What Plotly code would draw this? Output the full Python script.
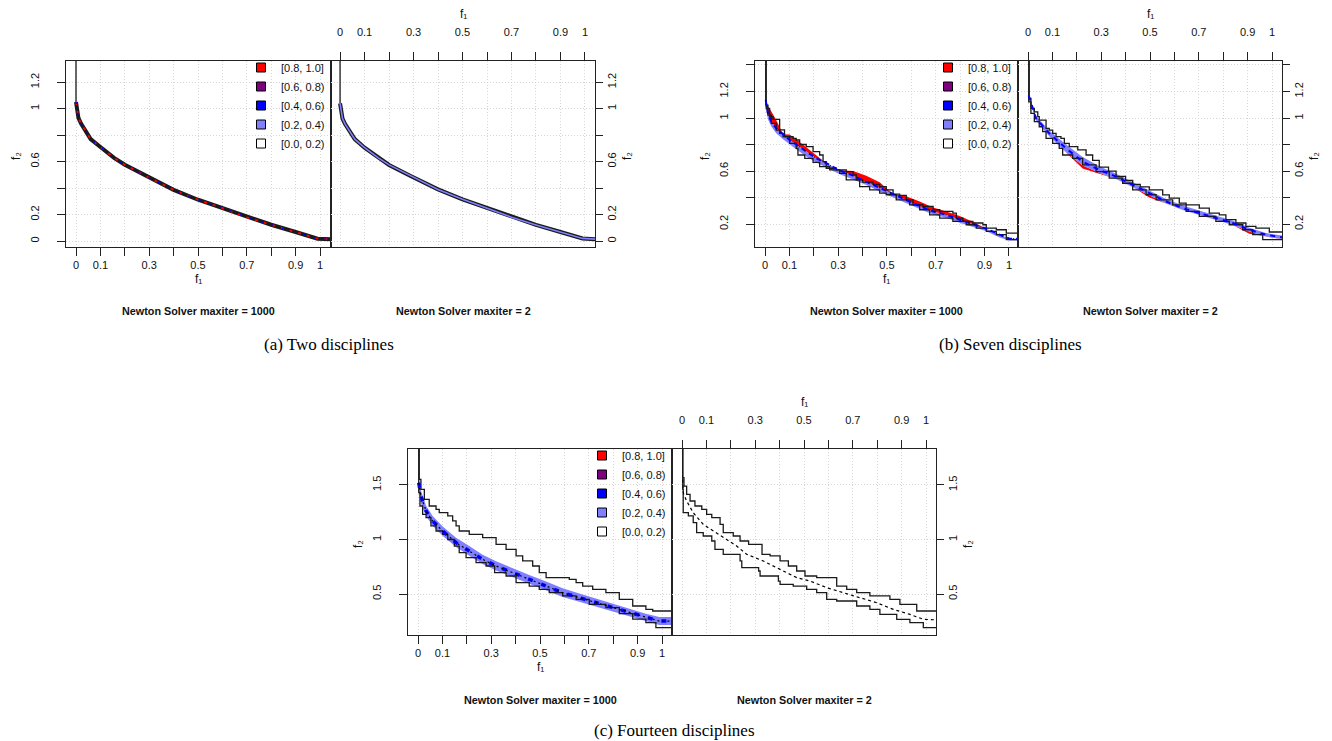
import plotly.graph_objects as go

# ---------------- data ----------------
x_tickvals = [0, 0.1, 0.3, 0.5, 0.7, 0.9, 1.0]
x_ticktext = ['0', '0.1', '0.3', '0.5', '0.7', '0.9', '1']
x_minor = [0.2, 0.4, 0.6, 0.8]
ya_tickvals = [0, 0.2, 0.6, 1.0, 1.2]
ya_ticktext = ['0', '0.2', '0.6', '1', '1.2']
ya_minor = [0.4, 0.8]
yb_tickvals = [0.2, 0.6, 1.0, 1.2]
yb_ticktext = ['0.2', '0.6', '1', '1.2']
yb_minor = [0.4, 0.8, 1.4]
yc_tickvals = [0.5, 1.0, 1.5]
yc_ticktext = ['0.5', '1', '1.5']
yc_minor = []

legend_labels = ['[0.8, 1.0]', '[0.6, 0.8)', '[0.4, 0.6)', '[0.2, 0.4)', '[0.0, 0.2)']
legend_colors = ['#FF0000', '#7F007F', '#0000FF', '#7F7FFF', '#FFFFFF']

panel_titles = ['Newton Solver maxiter = 1000', 'Newton Solver maxiter = 2']
captions = ['(a) Two disciplines', '(b) Seven disciplines', '(c) Fourteen disciplines']
x_title = 'f\u2081'
y_title = 'f\u2082'

# (a) Two disciplines
a1_x = [0, 0, 0.005, 0.01, 0.02, 0.033, 0.06, 0.10, 0.156, 0.20, 0.29, 0.40, 0.50, 0.60, 0.70, 0.80, 0.90, 0.99, 1.06]
a1_y = [1.50, 1.05, 0.98, 0.93, 0.89, 0.853, 0.77, 0.71, 0.628, 0.576, 0.488, 0.387, 0.312, 0.249, 0.179, 0.123, 0.068, 0.018, 0.012]
a2_x = [0, 0, 0.005, 0.01, 0.02, 0.033, 0.06, 0.10, 0.156, 0.20, 0.29, 0.40, 0.50, 0.60, 0.70, 0.80, 0.90, 0.99, 1.06]
a2_y = [1.50, 1.04, 0.97, 0.925, 0.885, 0.85, 0.77, 0.705, 0.628, 0.575, 0.49, 0.39, 0.315, 0.25, 0.18, 0.122, 0.068, 0.02, 0.012]

# (b) Seven disciplines, maxiter = 1000
b1_up_x = [0, 0.005, 0.019, 0.033, 0.06, 0.06, 0.08, 0.115, 0.128, 0.142, 0.169, 0.197, 0.224, 0.238, 0.251,
           0.292, 0.333, 0.361, 0.374, 0.40, 0.443, 0.47, 0.497, 0.525, 0.552, 0.579, 0.607, 0.648, 0.689, 0.716,
           0.77, 0.784, 0.811, 0.852, 0.893, 0.907, 0.948, 0.989, 1.06]
b1_up_y = [1.50, 1.072, 1.01, 0.99, 0.985, 0.91, 0.86, 0.847, 0.834, 0.80, 0.784, 0.746, 0.721, 0.671, 0.621,
           0.609, 0.596, 0.571, 0.533, 0.516, 0.50, 0.483, 0.458, 0.426, 0.416, 0.383, 0.345, 0.333, 0.308, 0.295,
           0.283, 0.245, 0.22, 0.208, 0.195, 0.17, 0.157, 0.132, 0.132]
b1_lo_x = [0.003, 0.003, 0.012, 0.026, 0.046, 0.06, 0.074, 0.101, 0.128, 0.135, 0.163, 0.197, 0.224, 0.265, 0.306,
           0.333, 0.388, 0.429, 0.47, 0.497, 0.538, 0.593, 0.634, 0.675, 0.716, 0.77, 0.825, 0.866, 0.907, 0.948,
           0.989, 1.06]
b1_lo_y = [1.50, 1.097, 1.022, 0.959, 0.909, 0.884, 0.859, 0.809, 0.771, 0.721, 0.696, 0.666, 0.634, 0.609, 0.583,
           0.533, 0.483, 0.458, 0.433, 0.421, 0.383, 0.345, 0.308, 0.27, 0.245, 0.22, 0.195, 0.17, 0.145, 0.12,
           0.082, 0.082]
b1_med_x = [0.003, 0.012, 0.026, 0.046, 0.074, 0.101, 0.128, 0.169, 0.21, 0.251, 0.306, 0.361, 0.415, 0.47, 0.525,
            0.579, 0.634, 0.689, 0.743, 0.798, 0.852, 0.907, 0.962, 1.003, 1.06]
b1_med_y = [1.135, 1.035, 0.972, 0.922, 0.877, 0.834, 0.80, 0.746, 0.696, 0.659, 0.605, 0.565, 0.52, 0.47, 0.425,
            0.38, 0.335, 0.295, 0.27, 0.233, 0.20, 0.165, 0.12, 0.09, 0.09]
b1_red_hi = [1.135, 1.09, 1.05, 0.985, 0.877, 0.875, 0.84, 0.78, 0.72, 0.659, 0.605, 0.60, 0.565, 0.515, 0.425,
             0.41, 0.37, 0.325, 0.295, 0.26, 0.218, 0.165, 0.12, 0.09, 0.09]
b1_band_lo = [1.09, 0.99, 0.935, 0.885, 0.84, 0.80, 0.765, 0.71, 0.665, 0.627, 0.575, 0.537, 0.495, 0.445, 0.40,
              0.357, 0.313, 0.273, 0.248, 0.21, 0.178, 0.145, 0.098, 0.076, 0.076]

# (b) Seven disciplines, maxiter = 2
b2_up_x = [0, 0.005, 0.012, 0.026, 0.04, 0.046, 0.074, 0.074, 0.087, 0.101, 0.115, 0.135, 0.149, 0.169, 0.204,
           0.238, 0.265, 0.292, 0.33, 0.361, 0.40, 0.429, 0.46, 0.497, 0.552, 0.579, 0.62, 0.648, 0.702, 0.743,
           0.784, 0.811, 0.852, 0.893, 0.934, 0.989, 1.06]
b2_up_y = [1.50, 1.147, 1.072, 1.047, 1.01, 0.984, 0.984, 0.922, 0.909, 0.884, 0.859, 0.847, 0.809, 0.784, 0.759,
           0.721, 0.68, 0.63, 0.60, 0.56, 0.53, 0.50, 0.48, 0.458, 0.42, 0.395, 0.358, 0.345, 0.32, 0.283,
           0.27, 0.233, 0.208, 0.182, 0.17, 0.14, 0.14]
b2_lo_x = [0.003, 0.003, 0.012, 0.026, 0.046, 0.06, 0.074, 0.101, 0.128, 0.142, 0.183, 0.224, 0.279, 0.333, 0.388,
           0.429, 0.484, 0.525, 0.593, 0.648, 0.702, 0.77, 0.825, 0.88, 0.921, 0.962, 1.06]
b2_lo_y = [1.50, 1.122, 1.035, 0.972, 0.934, 0.897, 0.847, 0.809, 0.771, 0.721, 0.696, 0.646, 0.596, 0.546, 0.508,
           0.458, 0.421, 0.383, 0.345, 0.295, 0.258, 0.22, 0.195, 0.157, 0.12, 0.082, 0.082]
b2_med_x = [0.003, 0.033, 0.087, 0.156, 0.224, 0.292, 0.361, 0.429, 0.497, 0.566, 0.634, 0.702, 0.77, 0.839, 0.907,
            0.975, 1.06]
b2_med_y = [1.17, 0.997, 0.884, 0.771, 0.671, 0.609, 0.558, 0.496, 0.433, 0.37, 0.32, 0.283, 0.245, 0.208, 0.157,
            0.12, 0.095]
b2_band_hi = [1.17, 1.015, 0.905, 0.80, 0.705, 0.637, 0.58, 0.515, 0.45, 0.39, 0.34, 0.30, 0.262, 0.225, 0.173,
              0.133, 0.107]
b2_band_lo = [1.15, 0.982, 0.862, 0.742, 0.642, 0.587, 0.54, 0.48, 0.417, 0.355, 0.306, 0.268, 0.23, 0.193, 0.143,
              0.106, 0.083]
b2_red_lo = [1.15, 0.982, 0.862, 0.742, 0.62, 0.58, 0.54, 0.48, 0.40, 0.355, 0.306, 0.268, 0.23, 0.193, 0.127,
             0.106, 0.083]

# (c) Fourteen disciplines, maxiter = 1000
c1_up_x = [0, 0.005, 0.012, 0.026, 0.046, 0.074, 0.087, 0.122, 0.142, 0.156, 0.169, 0.21, 0.265, 0.32, 0.361,
           0.402, 0.429, 0.47, 0.497, 0.525, 0.62, 0.648, 0.675, 0.716, 0.77, 0.825, 0.88, 0.934, 0.962, 1.06]
c1_up_y = [2.0, 1.552, 1.46, 1.368, 1.307, 1.277, 1.246, 1.216, 1.17, 1.124, 1.078, 1.047, 1.017, 0.956, 0.91,
           0.849, 0.803, 0.757, 0.696, 0.65, 0.635, 0.604, 0.573, 0.543, 0.512, 0.451, 0.39, 0.359, 0.344, 0.344]
c1_lo_x = [0.003, 0.003, 0.008, 0.019, 0.033, 0.053, 0.074, 0.101, 0.122, 0.149, 0.169, 0.197, 0.238, 0.279, 0.314,
           0.361, 0.402, 0.456, 0.497, 0.538, 0.593, 0.648, 0.702, 0.77, 0.825, 0.88, 0.934, 0.975, 1.06]
c1_lo_y = [2.0, 1.43, 1.307, 1.23, 1.2, 1.124, 1.078, 1.047, 1.0, 0.94, 0.879, 0.833, 0.787, 0.757, 0.696,
           0.665, 0.604, 0.573, 0.543, 0.512, 0.482, 0.451, 0.405, 0.375, 0.32, 0.27, 0.237, 0.191, 0.191]
c1_med_x = [0.003, 0.012, 0.033, 0.06, 0.101, 0.156, 0.21, 0.265, 0.32, 0.388, 0.456, 0.525, 0.593, 0.661, 0.73,
            0.798, 0.866, 0.934, 0.989, 1.06]
c1_med_y = [1.52, 1.40, 1.261, 1.17, 1.078, 0.971, 0.894, 0.818, 0.757, 0.696, 0.635, 0.573, 0.512, 0.466, 0.42,
            0.375, 0.335, 0.283, 0.252, 0.252]
c1_band_hi = [1.55, 1.45, 1.31, 1.215, 1.12, 1.015, 0.94, 0.86, 0.80, 0.735, 0.675, 0.615, 0.552, 0.505, 0.458,
              0.412, 0.37, 0.32, 0.29, 0.29]
c1_band_lo = [1.45, 1.33, 1.215, 1.125, 1.035, 0.93, 0.85, 0.775, 0.715, 0.655, 0.595, 0.532, 0.472, 0.428, 0.382,
              0.338, 0.298, 0.246, 0.215, 0.215]

# (c) Fourteen disciplines, maxiter = 2
c2_up_x = [0, 0.003, 0.008, 0.019, 0.033, 0.053, 0.081, 0.101, 0.122, 0.156, 0.169, 0.21, 0.238, 0.273, 0.328,
           0.328, 0.361, 0.402, 0.436, 0.47, 0.504, 0.552, 0.634, 0.634, 0.675, 0.716, 0.77, 0.852, 0.893, 0.962, 1.06]
c2_up_y = [2.0, 1.567, 1.49, 1.414, 1.353, 1.307, 1.277, 1.231, 1.20, 1.139, 1.063, 1.032, 0.986, 0.956, 0.94,
           0.864, 0.849, 0.803, 0.757, 0.711, 0.665, 0.65, 0.65, 0.573, 0.543, 0.512, 0.482, 0.451, 0.405, 0.344, 0.344]
c2_lo_x = [0.003, 0.003, 0.005, 0.026, 0.046, 0.06, 0.087, 0.122, 0.135, 0.169, 0.238, 0.245, 0.314, 0.32, 0.395,
           0.402, 0.456, 0.511, 0.552, 0.593, 0.634, 0.716, 0.77, 0.811, 0.88, 0.934, 0.989, 1.06]
c2_lo_y = [2.0, 1.46, 1.246, 1.216, 1.154, 1.063, 1.032, 0.986, 0.91, 0.864, 0.803, 0.742, 0.711, 0.665, 0.619,
           0.589, 0.573, 0.543, 0.512, 0.451, 0.436, 0.39, 0.359, 0.313, 0.268, 0.237, 0.191, 0.191]
c2_med_x = [0.003, 0.005, 0.019, 0.046, 0.087, 0.128, 0.169, 0.224, 0.265, 0.333, 0.402, 0.47, 0.525, 0.593, 0.661,
            0.73, 0.798, 0.866, 0.934, 0.989, 1.06]
c2_med_y = [1.55, 1.43, 1.353, 1.246, 1.139, 1.078, 1.017, 0.94, 0.864, 0.803, 0.726, 0.65, 0.619, 0.558, 0.512,
            0.466, 0.42, 0.359, 0.313, 0.268, 0.261]

# ---------------- layout helpers ----------------
W, H = 1332, 741
FONT = 'Liberation Sans, Arial, sans-serif'
SERIF = 'Liberation Serif, Times New Roman, serif'
LINE = '#1a1a1a'
TXT = '#111111'
GRID = dict(showgrid=True, gridcolor='#d6d6d6', griddash='1px,2px', gridwidth=1)


def px(p):
    return p / W


def py(p):
    return 1 - p / H


fig = go.Figure()


def add(x, y, ax, **kw):
    fig.add_trace(go.Scatter(x=x, y=y, xaxis='x' + ax, yaxis='y' + ax, showlegend=False,
                             hoverinfo='skip', **kw))


def band(x, lo, hi, ax, color):
    add(x, lo, ax, mode='lines', line=dict(width=0, color=color))
    add(x, hi, ax, mode='lines', line=dict(width=0, color=color), fill='tonexty', fillcolor=color)


def step(x, y, ax):
    add(x, y, ax, mode='lines', line=dict(color=LINE, width=1.3, shape='hv'))


# (a) left
add(a1_x[:2], a1_y[:2], '', mode='lines', line=dict(color=LINE, width=1.3))
add(a1_x[1:], a1_y[1:], '', mode='lines', line=dict(color=LINE, width=4))
add(a1_x[1:], a1_y[1:], '', mode='lines', line=dict(color='#FF0000', width=1.8, dash='3px,6px'))
add(a1_x[1:], a1_y[1:], '', mode='lines', line=dict(color='#0000FF', width=1.5, dash='2px,9px'))
# (a) right
add(a2_x[:2], a2_y[:2], '2', mode='lines', line=dict(color=LINE, width=1.3))
add(a2_x[1:], a2_y[1:], '2', mode='lines', line=dict(color=LINE, width=4))
add(a2_x[1:], a2_y[1:], '2', mode='lines', line=dict(color='#7F7FFF', width=1.6))

# (b) left
band(b1_med_x, b1_band_lo, b1_med_y, '3', '#7F7FFF')
add(b1_med_x, b1_red_hi, '3', mode='lines', line=dict(width=0, color='#FF0000'), fill='tonexty',
    fillcolor='#FF0000')
step(b1_up_x, b1_up_y, '3')
step(b1_lo_x, b1_lo_y, '3')
add(b1_med_x, b1_med_y, '3', mode='lines', line=dict(color='#0000FF', width=2, dash='5px,4px'))
add(b1_med_x, b1_med_y, '3', mode='lines', line=dict(color='#000000', width=1, dash='1px,5px'))

# (b) right
band(b2_med_x, b2_red_lo, b2_band_lo, '4', '#FF0000')
add(b2_med_x, b2_band_hi, '4', mode='lines', line=dict(width=0, color='#7F7FFF'), fill='tonexty',
    fillcolor='#7F7FFF')
step(b2_up_x, b2_up_y, '4')
step(b2_lo_x, b2_lo_y, '4')
add(b2_med_x, b2_med_y, '4', mode='lines', line=dict(color='#0000FF', width=2, dash='5px,5px'))

# (c) left
band(c1_med_x, c1_band_lo, c1_band_hi, '5', '#7F7FFF')
step(c1_up_x, c1_up_y, '5')
step(c1_lo_x, c1_lo_y, '5')
add(c1_med_x, c1_med_y, '5', mode='lines', line=dict(color='#0000FF', width=3.5, dash='5px,9px'))
add(c1_med_x, c1_med_y, '5', mode='lines', line=dict(color='#000000', width=1.2, dash='2px,3px'))

# (c) right
step(c2_up_x, c2_up_y, '6')
step(c2_lo_x, c2_lo_y, '6')
add(c2_med_x, c2_med_y, '6', mode='lines', line=dict(color='#000000', width=1.2, dash='3px,3px'))

# legends (one per left panel)
for lg, ax in (('legend', ''), ('legend2', '3'), ('legend3', '5')):
    for lab, col in zip(legend_labels, legend_colors):
        fig.add_trace(go.Scatter(x=[None], y=[None], xaxis='x' + ax, yaxis='y' + ax, mode='markers',
                                 name=lab, legend=lg, showlegend=True,
                                 marker=dict(symbol='square', size=9, color=col,
                                             line=dict(color='#000000', width=1))))


# axes
def base_axis(minor_vals, ticklen=8, **kw):
    d = dict(showline=True, linecolor='#222222', linewidth=1, mirror=True, ticks='outside', ticklen=ticklen,
             tickwidth=1, tickcolor='#222222', zeroline=False, tickfont=dict(family=FONT, size=11, color=TXT),
             minor=dict(tickmode='array', tickvals=minor_vals, ticks='outside', ticklen=ticklen, tickwidth=1,
                        tickcolor='#222222', **GRID),
             **GRID)
    d.update(kw)
    return d


rows = {'top': (53, 239), 'bot': (441, 627)}
panels = [
    # axis suffix, x px range, row, x range, y range, y ticks, y tick text, y minor ticks, side
    ('', (58, 323), 'top', [-0.041, 1.045], [-0.045, 1.36], ya_tickvals, ya_ticktext, ya_minor, 'left'),
    ('2', (323, 587), 'top', [-0.037, 1.041], [-0.045, 1.36], ya_tickvals, ya_ticktext, ya_minor, 'right'),
    ('3', (747, 1010), 'top', [-0.041, 1.037], [0.027, 1.43], yb_tickvals, yb_ticktext, yb_minor, 'left'),
    ('4', (1010, 1274), 'top', [-0.041, 1.041], [0.027, 1.43], yb_tickvals, yb_ticktext, yb_minor, 'right'),
    ('5', (400, 664), 'bot', [-0.041, 1.041], [0.124, 1.83], yc_tickvals, yc_ticktext, yc_minor, 'left'),
    ('6', (664, 928), 'bot', [-0.041, 1.041], [0.124, 1.83], yc_tickvals, yc_ticktext, yc_minor, 'right'),
]
layout_axes = {}
annotations = []
title_rows = {'top': 303, 'bot': 692}
for suf, (x0, x1), row, xr, yr, yt, ytt, ymin, side in panels:
    y0, y1 = rows[row]
    if side == 'left':
        xa_kw = dict(side='bottom', ticklabelstandoff=0)
        ya_kw = dict(side='left', ticklabelstandoff=14)
        ylen = 8
    else:
        xa_kw = dict(side='top', ticklabelstandoff=12)
        ya_kw = dict(side='right', ticklabelstandoff=0)
        ylen = 7
    layout_axes['xaxis' + suf] = base_axis(x_minor, domain=[px(x0), px(x1)], range=xr, anchor='y' + suf,
                                           tickmode='array', tickvals=x_tickvals, ticktext=x_ticktext, **xa_kw)
    layout_axes['yaxis' + suf] = base_axis(ymin, ticklen=ylen, domain=[py(y1), py(y0)], range=yr,
                                           anchor='x' + suf, tickmode='array', tickvals=yt, ticktext=ytt,
                                           tickangle=-90, **ya_kw)
    cx = (x0 + x1) / 2
    cy = (y0 + y1) / 2
    # axis titles
    if side == 'left':
        tx_y = y1 + 32
        ty_x = x0 - 50
    else:
        tx_y = y0 - 47
        ty_x = x1 + 32
    annotations.append(dict(text=x_title, x=px(cx), y=py(tx_y), xref='paper', yref='paper', showarrow=False,
                            xanchor='center', yanchor='middle', font=dict(family=FONT, size=12, color=TXT)))
    annotations.append(dict(text=y_title, x=px(ty_x), y=py(cy + 2), xref='paper', yref='paper', showarrow=False,
                            xanchor='center', yanchor='middle', textangle=-90,
                            font=dict(family=FONT, size=12, color=TXT)))
    txt = panel_titles[0] if side == 'left' else panel_titles[1]
    annotations.append(dict(text='<b>' + txt + '</b>', x=px(cx), y=py(title_rows[row]),
                            xref='paper', yref='paper', showarrow=False, xanchor='center', yanchor='middle',
                            font=dict(family=FONT, size=10.8, color=TXT)))

for cap, cx, cy in zip(captions, (321, 1002, 666), (336, 336, 722)):
    annotations.append(dict(text=cap, x=px(cx), y=py(cy), xref='paper', yref='paper', showarrow=False,
                            xanchor='center', yanchor='middle',
                            font=dict(family=SERIF, size=17, color='#000000')))

legend_style = dict(xanchor='right', yanchor='top', bgcolor='rgba(0,0,0,0)', borderwidth=0,
                    font=dict(family=FONT, size=11, color=TXT), itemwidth=30, tracegroupgap=0,
                    traceorder='normal')

fig.update_layout(
    width=W, height=H, margin=dict(l=0, r=0, t=0, b=0),
    paper_bgcolor='white', plot_bgcolor='white',
    showlegend=True,
    legend=dict(x=px(322), y=py(45), **legend_style),
    legend2=dict(x=px(1009), y=py(45), **legend_style),
    legend3=dict(x=px(663), y=py(433), **legend_style),
    annotations=annotations,
    **layout_axes,
)

fig.write_html('out.html')
